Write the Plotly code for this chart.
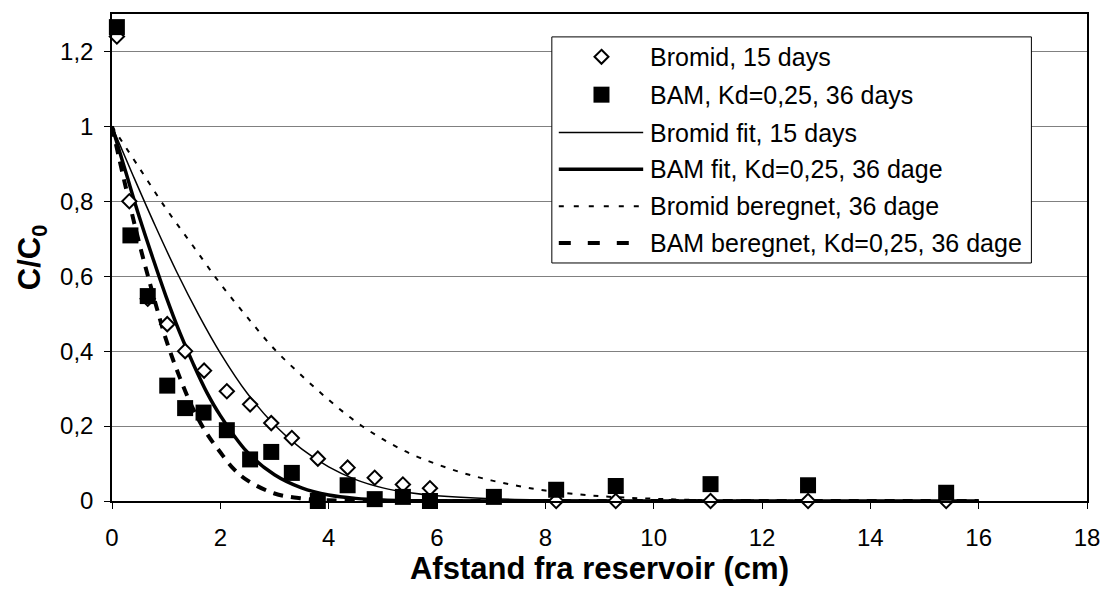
import plotly.graph_objects as go

# Measured breakthrough data: distance from reservoir (cm) and relative concentration C/C0
bromid_x = [0.09, 0.32, 0.66, 1.02, 1.35, 1.70, 2.12, 2.55, 2.94, 3.32, 3.80, 4.35,
            4.85, 5.37, 5.87, 8.2, 9.3, 11.05, 12.85, 15.4]
bromid_y = [1.24, 0.80, 0.54, 0.472, 0.40, 0.348, 0.293, 0.258, 0.208, 0.168, 0.113, 0.089,
            0.062, 0.044, 0.034, 0.0, 0.0, 0.0, 0.0, 0.0]

bam_x = [0.09, 0.34, 0.66, 1.02, 1.35, 1.69, 2.12, 2.55, 2.94, 3.32, 3.80, 4.35,
         4.85, 5.37, 5.87, 7.05, 8.2, 9.3, 11.05, 12.85, 15.4]
bam_y = [1.265, 0.709, 0.547, 0.308, 0.248, 0.236, 0.189, 0.111, 0.131, 0.075, 0.0, 0.042,
         0.005, 0.011, 0.0, 0.011, 0.03, 0.04, 0.045, 0.042, 0.022]

# Fitted and calculated profiles
bromid_fit_x = [0, 0.4, 0.8, 1.2, 1.6, 2.0, 2.5, 3.0, 3.5, 4.0, 4.5, 5.0, 5.5, 6.0,
                7.0, 8.0, 10, 12, 14, 16]
bromid_fit_y = [1, 0.865, 0.734, 0.61, 0.497, 0.395, 0.287, 0.203, 0.139, 0.091, 0.057, 0.035,
                0.022, 0.014, 0.006, 0.003, 0.001, 0, 0, 0]

bam_fit_x = [0, 0.25, 0.5, 0.75, 1.0, 1.25, 1.5, 1.75, 2.0, 2.5, 3.0, 3.5, 4.0, 4.5,
             5.0, 6.0, 8, 10, 12, 14, 16]
bam_fit_y = [1, 0.88, 0.76, 0.65, 0.545, 0.45, 0.366, 0.29, 0.228, 0.13, 0.07, 0.035,
             0.016, 0.007, 0.003, 0.0005, 0, 0, 0, 0, 0]

bromid_calc_x = [0, 0.5, 1, 1.5, 2, 2.5, 3, 3.5, 4, 4.5, 5, 5.5, 6, 6.5, 7, 7.5, 8,
                 9, 10, 11, 12, 14, 16]
bromid_calc_y = [1, 0.89, 0.78, 0.68, 0.58, 0.49, 0.405, 0.335, 0.27, 0.212, 0.165, 0.127,
                 0.098, 0.074, 0.055, 0.04, 0.028, 0.013, 0.006, 0.002, 0.001, 0, 0]

bam_calc_x = [0, 0.25, 0.5, 0.75, 1.0, 1.25, 1.5, 1.75, 2.0, 2.25, 2.5, 3.0, 3.5, 4.0,
              5, 6, 8, 10, 12, 14, 16]
bam_calc_y = [1, 0.84, 0.69, 0.555, 0.43, 0.33, 0.245, 0.18, 0.13, 0.085, 0.055, 0.02,
              0.007, 0.002, 0, 0, 0, 0, 0, 0, 0]

legend_labels = [
    "Bromid, 15 days",
    "BAM, Kd=0,25, 36 days",
    "Bromid fit, 15 days",
    "BAM fit, Kd=0,25, 36 dage",
    "Bromid beregnet, 36 dage",
    "BAM beregnet, Kd=0,25, 36 dage",
]

FONT = "Arial, Liberation Sans, sans-serif"
W, H = 1112, 601
L, R, T, B = 112, 18, 12, 100
PW, PH = W - L - R, H - T - B


def px(x):
    return (x - L) / PW


def py(y):
    return (H - B - y) / PH


fig = go.Figure()

fig.add_trace(go.Scatter(x=bromid_fit_x, y=bromid_fit_y, mode="lines", line_shape="spline",
                         line=dict(color="black", width=1.5), name=legend_labels[2]))
fig.add_trace(go.Scatter(x=bam_fit_x, y=bam_fit_y, mode="lines", line_shape="spline",
                         line=dict(color="black", width=3.5), name=legend_labels[3]))
fig.add_trace(go.Scatter(x=bromid_calc_x, y=bromid_calc_y, mode="lines", line_shape="spline",
                         line=dict(color="black", width=2, dash="5px,8px"),
                         name=legend_labels[4]))
fig.add_trace(go.Scatter(x=bam_calc_x, y=bam_calc_y, mode="lines", line_shape="spline",
                         line=dict(color="black", width=4, dash="10px,8px"),
                         name=legend_labels[5]))
fig.add_trace(go.Scatter(x=bromid_x, y=bromid_y, mode="markers", cliponaxis=False,
                         marker=dict(symbol="diamond", size=11, color="white",
                                     line=dict(color="black", width=2)),
                         name=legend_labels[0]))
fig.add_trace(go.Scatter(x=bam_x, y=bam_y, mode="markers", cliponaxis=False,
                         marker=dict(symbol="square", size=16, color="black",
                                     line=dict(color="black", width=0)),
                         name=legend_labels[1]))

# Legend box drawn by hand so the line samples are long like the original layout
shapes = [dict(type="rect", xref="paper", yref="paper", x0=px(555), x1=px(1038),
               y0=py(262), y1=py(35), line=dict(color="black", width=1),
               fillcolor="white", layer="above")]
rows = [55, 93, 131, 168, 205, 242]
line_x0, line_x1, sym_x, text_x = 562, 647, 605, 652
line_styles = [None, None,
               dict(width=1.5, dash="solid"),
               dict(width=3.5, dash="solid"),
               dict(width=2, dash="5px,10px"),
               dict(width=4, dash="12px,17px")]
for i, st in enumerate(line_styles):
    if st is None:
        continue
    shapes.append(dict(type="line", xref="paper", yref="paper", layer="above",
                       x0=px(line_x0), x1=px(line_x1), y0=py(rows[i]), y1=py(rows[i]),
                       line=dict(color="black", width=st["width"], dash=st["dash"])))
# diamond sample
shapes.append(dict(type="path", xref="paper", yref="paper", layer="above",
                   xsizemode="pixel", ysizemode="pixel",
                   xanchor=px(sym_x), yanchor=py(rows[0]),
                   path="M0,7 L7,0 L0,-7 L-7,0 Z",
                   line=dict(color="black", width=2), fillcolor="white"))
# square sample
shapes.append(dict(type="path", xref="paper", yref="paper", layer="above",
                   xsizemode="pixel", ysizemode="pixel",
                   xanchor=px(sym_x), yanchor=py(rows[1]),
                   path="M-8,-8 L8,-8 L8,8 L-8,8 Z",
                   line=dict(color="black", width=0), fillcolor="black"))

annotations = [dict(xref="paper", yref="paper", x=px(text_x), y=py(rows[i]),
                    xanchor="left", yanchor="middle", showarrow=False,
                    text=lab, font=dict(family=FONT, size=25, color="black"))
               for i, lab in enumerate(legend_labels)]

fig.update_layout(
    width=W, height=H,
    margin=dict(l=L, r=R, t=T, b=B),
    paper_bgcolor="white", plot_bgcolor="white",
    separators=", ",
    showlegend=False,
    font=dict(family=FONT, size=24, color="black"),
    shapes=shapes,
    annotations=annotations,
)
fig.update_xaxes(
    range=[0, 18], dtick=2, tick0=0,
    showline=True, linecolor="black", linewidth=1.5, mirror=True,
    ticks="outside", ticklen=6, tickcolor="black", ticklabelstandoff=8,
    showgrid=False, zeroline=False,
    title=dict(text="<b>Afstand fra reservoir (cm)</b>",
               font=dict(family=FONT, size=31), standoff=2),
)
fig.update_yaxes(
    range=[0, 1.3], dtick=0.2, tick0=0,
    showline=True, linecolor="black", linewidth=1.5, mirror=True,
    ticks="outside", ticklen=6, tickcolor="black", ticklabelstandoff=6,
    showgrid=True, gridcolor="#808080", gridwidth=1, zeroline=False,
    title=dict(text="<b>C/C<sub>0</sub></b>",
               font=dict(family=FONT, size=31), standoff=10),
)

fig.write_html("out.html")
